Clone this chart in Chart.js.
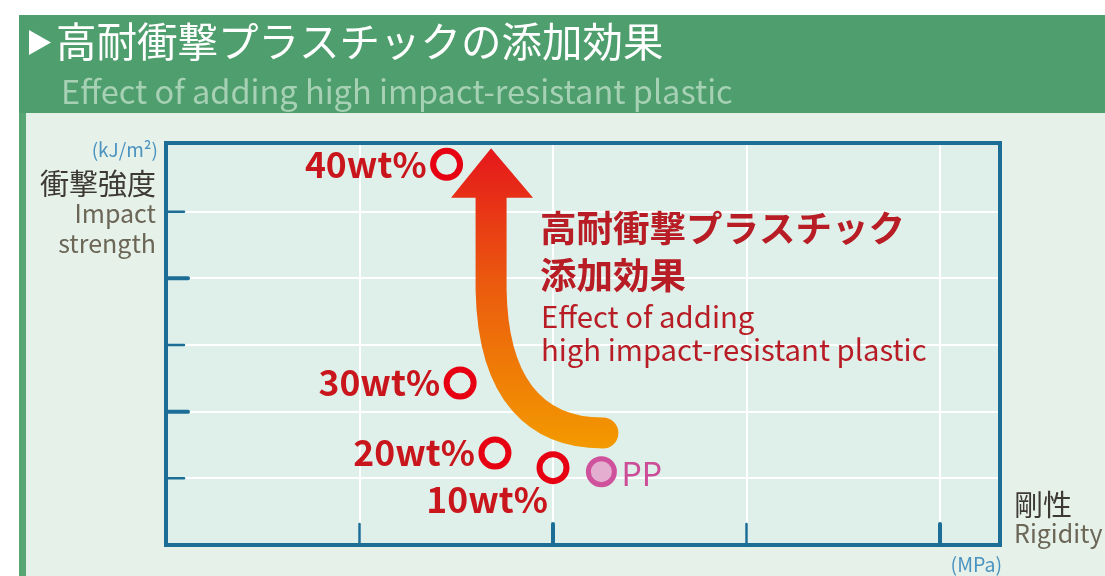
<!DOCTYPE html>
<html>
<head>
<meta charset="utf-8">
<script src="https://cdn.jsdelivr.net/npm/chart.js@4.4.1/dist/chart.umd.min.js"></script>
<style>
  html, body { margin: 0; padding: 0; background: #fff; }
  #wrap { width: 1105px; height: 576px; }
</style>
</head>
<body>
<div id="wrap"><canvas id="effect" width="1105" height="576"></canvas></div>
<script>
// data
var names = ['40wt%', '30wt%', '20wt%', '10wt%', 'PP'];
var rigidity = [1.45, 1.52, 1.70, 2.00, 2.25];
var impact = [5.71, 2.43, 1.38, 1.16, 1.10];

var title = '高耐衝撃プラスチックの添加効果';
var subtitle = 'Effect of adding high impact-resistant plastic';
var noteJa = ['高耐衝撃プラスチック', '添加効果'];
var noteEn = ['Effect of adding', 'high impact-resistant plastic'];

var JP = '"Noto Sans CJK JP", "Noto Sans", sans-serif';
var axisBlue = '#1c6e97';

var pagePlugin = {
    id: 'page',
    beforeDraw: function (chart) {
        var c = chart.ctx, a = chart.chartArea;
        c.save();
        c.fillStyle = '#fff';
        c.fillRect(0, 0, 1105, 576);
        // header
        c.fillStyle = '#4f9e6d';
        c.fillRect(19, 15, 1086, 98);
        c.fillStyle = '#57a673';
        c.fillRect(19, 113, 7, 463);
        c.fillStyle = '#e6f1ea';
        c.fillRect(26, 113, 1079, 463);
        // plot background
        c.fillStyle = '#dff0ea';
        c.fillRect(a.left, a.top, a.right - a.left, a.bottom - a.top);
        // title
        c.fillStyle = '#fff';
        c.beginPath();
        c.moveTo(29, 30); c.lineTo(51, 42.5); c.lineTo(29, 55); c.closePath();
        c.fill();
        c.font = '40.5px ' + JP;
        c.textBaseline = 'middle';
        c.fillText(title, 56, 42);
        c.fillStyle = '#a6d1b4';
        c.font = '32.5px ' + JP;
        c.fillText(subtitle, 61, 92);
        c.restore();
    },
    beforeDatasetsDraw: function (chart) {
        var c = chart.ctx, x = chart.scales.x, y = chart.scales.y;
        var X = function (v) { return x.getPixelForValue(v); };
        var Y = function (v) { return y.getPixelForValue(v); };
        c.save();
        var g = c.createLinearGradient(0, Y(5.95), 0, Y(1.45));
        g.addColorStop(0, '#e5171b');
        g.addColorStop(0.45, '#eb5a0e');
        g.addColorStop(1, '#f39a00');
        c.strokeStyle = g;
        c.fillStyle = g;
        c.lineWidth = 31;
        c.lineCap = 'round';
        c.beginPath();
        c.moveTo(X(1.68), Y(5.25));
        c.lineTo(X(1.68), Y(3.83));
        c.bezierCurveTo(X(1.69), Y(2.25), X(1.933), Y(1.68), X(2.258), Y(1.68));
        c.stroke();
        c.beginPath();
        c.moveTo(X(1.473), Y(5.21));
        c.lineTo(X(1.68), Y(5.95));
        c.lineTo(X(1.897), Y(5.21));
        c.closePath();
        c.fill();
        c.restore();
    },
    afterDatasetsDraw: function (chart) {
        var c = chart.ctx, a = chart.chartArea;
        var x = chart.scales.x, y = chart.scales.y;
        c.save();
        // frame and inward ticks
        c.strokeStyle = axisBlue;
        c.lineWidth = 4;
        c.strokeRect(a.left, a.top, a.right - a.left, a.bottom - a.top);
        c.lineCap = 'round';
        y.ticks.forEach(function (t) {
            if (t.value <= 0 || t.value >= 6) return;
            var py = y.getPixelForValue(t.value);
            c.lineWidth = t.value % 2 ? 2.5 : 4;
            c.beginPath(); c.moveTo(a.left, py); c.lineTo(a.left + (t.value % 2 ? 18 : 22), py); c.stroke();
        });
        x.ticks.forEach(function (t) {
            if (t.value <= 0 || t.value > 4) return;
            var px = x.getPixelForValue(t.value);
            c.lineWidth = t.value % 2 ? 2.5 : 4;
            c.beginPath(); c.moveTo(px, a.bottom); c.lineTo(px, a.bottom - 21); c.stroke();
        });

        // point labels
        var meta = chart.getDatasetMeta(0);
        c.textBaseline = 'middle';
        meta.data.forEach(function (p, i) {
            var n = names[i];
            if (n === 'PP') {
                c.fillStyle = '#cc4c98';
                c.font = '32px ' + JP;
                c.textAlign = 'left';
                c.fillText(n, p.x + 20, p.y + 2);
            } else if (i === 3) {
                c.fillStyle = '#c9161d';
                c.font = 'bold 35.5px ' + JP;
                c.textAlign = 'right';
                c.fillText(n, p.x - 5, p.y + 32);
            } else {
                c.fillStyle = '#c9161d';
                c.font = 'bold 35.5px ' + JP;
                c.textAlign = 'right';
                c.fillText(n, p.x - 20, p.y);
            }
        });

        // effect note
        c.textAlign = 'left';
        c.fillStyle = '#b81c25';
        c.font = 'bold 36.5px ' + JP;
        c.fillText(noteJa[0], 540, 228);
        c.fillText(noteJa[1], 540, 275);
        c.font = '29.3px ' + JP;
        c.fillText(noteEn[0], 541, 317);
        c.fillText(noteEn[1], 541, 350);

        // axis labels
        c.textAlign = 'right';
        c.fillStyle = '#4b93bf';
        c.font = '19px ' + JP;
        c.fillText('(kJ/m²)', 158, 150);
        c.fillStyle = '#3d3a33';
        c.font = '29px ' + JP;
        c.fillText('衝撃強度', 156, 184);
        c.fillStyle = '#6b6656';
        c.font = '25px ' + JP;
        c.fillText('Impact', 156, 213);
        c.fillText('strength', 156, 243);
        c.textAlign = 'left';
        c.fillStyle = '#3d3a33';
        c.font = '29px ' + JP;
        c.fillText('剛性', 1014, 505);
        c.fillStyle = '#6b6656';
        c.font = '25px ' + JP;
        c.fillText('Rigidity', 1014, 533);
        c.textAlign = 'right';
        c.fillStyle = '#4b93bf';
        c.font = '19.5px ' + JP;
        c.fillText('(MPa)', 1002, 565);
        c.restore();
    }
};

var ring = names.map(function (n) { return n === 'PP' ? '#cf529d' : '#e60012'; });
var fill = names.map(function (n) { return n === 'PP' ? '#e4aed0' : 'rgba(0,0,0,0)'; });

var chart = new Chart(document.getElementById('effect'), {
    type: 'scatter',
    data: {
        datasets: [{
            data: rigidity.map(function (v, i) { return { x: v, y: impact[i] }; }),
            pointRadius: names.map(function (n) { return n === 'PP' ? 13 : 13.5; }),
            pointBorderWidth: names.map(function (n) { return n === 'PP' ? 5 : 6; }),
            pointBorderColor: ring,
            pointBackgroundColor: fill,
            pointHoverRadius: 14
        }]
    },
    options: {
        responsive: false,
        devicePixelRatio: 1,
        animation: false,
        layout: { padding: { left: 166, top: 143, right: 105, bottom: 31 } },
        plugins: {
            legend: { display: false },
            tooltip: { enabled: false }
        },
        scales: {
            x: {
                type: 'linear', min: 0, max: 4.31,
                ticks: { display: false, stepSize: 1 },
                grid: { color: '#fff', lineWidth: 2, drawTicks: false },
                border: { display: false }
            },
            y: {
                type: 'linear', min: 0, max: 6.03,
                ticks: { display: false, stepSize: 1 },
                grid: { color: '#fff', lineWidth: 2, drawTicks: false },
                border: { display: false }
            }
        }
    },
    plugins: [pagePlugin]
});
</script>
</body>
</html>
